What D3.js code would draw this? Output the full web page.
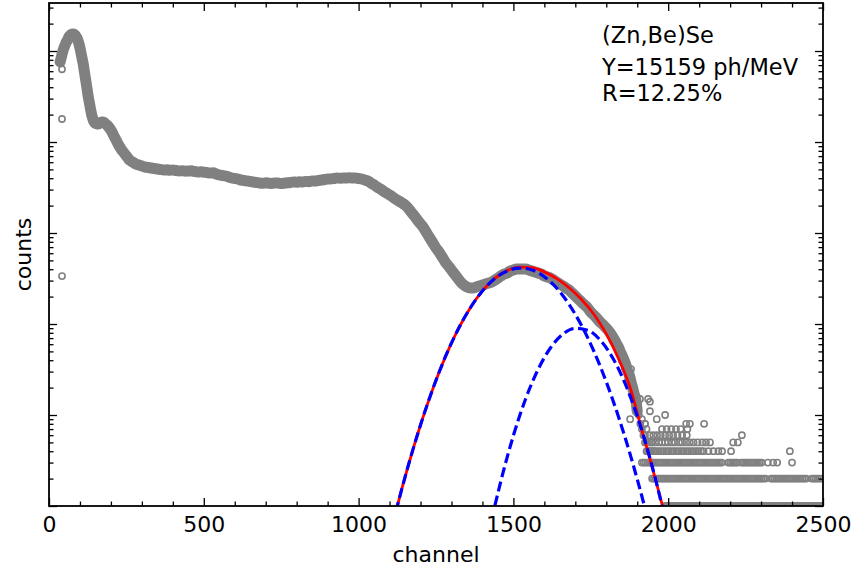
<!DOCTYPE html>
<html>
<head>
<meta charset="utf-8">
<script src="https://cdn.jsdelivr.net/npm/d3@7/dist/d3.min.js"></script>
<style>
body { margin: 0; background: #fff; }
text { font-family: "DejaVu Sans", sans-serif; }
</style>
</head>
<body>
<svg width="855" height="573"></svg>
<script>
var spectrumChannel = [
  36,40,44,48,52,56,60,64,68,72,76,80,84,88,92,96,100,
  102,104,106,108,110,112,114,116,118,120,122,124,126,128,130,132,134,136,138,140,142,144,146,148,150,
  155,160,165,170,175,180,185,190,195,200,205,210,215,220,225,230,235,240,245,250,255,260,265,270,275,280,290,300,
  310,320,330,340,350,360,370,380,390,400,410,420,430,440,450,460,470,480,490,500,
  510,520,530,540,550,560,570,580,590,600,610,620,630,640,650,660,670,680,690,700,
  710,720,730,740,750,760,770,780,790,800,810,820,830,840,850,860,870,880,890,900,
  910,920,930,940,950,960,970,980,990,1000,1010,1020,1030,1040,1050,1060,1070,1080,1090,1100,
  1110,1120,1130,1140,1150,1160,1170,1180,1190,1200,1210,1220,1230,1240,1250,1260,1270,1280,1290,1300,
  1310,1320,1330,1340,1350,1360,1370,1380,1390,1400,1410,1420,1430,1440,1450,1460,1470,1480,1490,1500,
  1510,1520,1530,1540,1550,1560,1570,1580,1590,1600,1610,1620,1630,1640,1650,1660,1670,1680,1690,1700,
  1710,1720,1730,1740,1750,1760,1770,1780,1790,1800,1810,1820,1830,
  1835,1840,1845,1850,1855,1860,1865,1870,1875,1880,1885,1890,1895,1900,1905,1910,1915,1920,1925,1930,1935,1940,1945,1950
];
var spectrumCounts = [
  75700,85900,97500,107900,116400,125600,132100,142500,148000,151800,153700,153700,149900,142500,135500,122400,107900,
  100000,92700,85900,79600,73800,66700,60300,54500,49200,44500,40200,36300,32800,29700,27500,25200,23000,21400,19800,18800,17900,17000,16600,16200,16000,
  15800,15800,16200,16600,16600,16200,15600,15000,14300,13500,12600,11600,10800,10000,9270,8700,8170,7770,7380,7020,6670,6340,6180,6030,5880,5730,5590,5450,
  5310,5250,5180,5120,5050,4990,4920,4950,4900,4920,4860,4800,4830,4780,4800,4820,4740,4680,4700,4660,
  4620,4560,4580,4450,4340,4290,4230,4130,4020,3970,3920,3820,3780,3730,3680,3640,3590,3540,3520,3560,
  3530,3510,3550,3540,3500,3530,3560,3590,3640,3620,3650,3640,3680,3670,3730,3720,3780,3820,3870,3920,
  3920,3970,4020,4000,4030,4020,4050,4010,4020,3970,3920,3820,3730,3540,3370,3200,3050,2890,2750,2620,
  2490,2360,2250,2140,2030,1880,1700,1540,1390,1260,1140,1000,881,777,684,618,545,480,434,392,
  354,320,289,268,255,249,249,255,262,268,275,282,289,304,320,337,354,363,382,392,
  402,402,402,402,392,382,373,363,354,337,329,320,304,289,275,262,249,236,219,203,
  188,174,162,150,135,125,115,105,98,90,82,73,64,
  59,55,50,46,42,38,34,30,27,23,20,17,15,11,10,8,7,6,6,5,4,4,3,3
];

// stray points off the main band
var strayChannel = [42,42,42,1780,1800,1820,1830,1850,1860,1870,1877,1880,1890,1900,1909,1915,1925,1930,1935,1941,1941,1945,1955,1963];
var strayCounts  = [63000,17900,336,110,88,66,58,40,33,27,9,32,17,13,15,9,8,7,15,14,11,5,4,9];

// low-count tail: channels that sit on each integer count row
var tailCounts = [1,2,3,4,5,6,7,8,10];
var tailChannels = [
  [1990,1996,2002,2008,2014,2020,2026,2032,2038,2044,2050,2056,2062,2068,2074,2080,2086,2092,2098,2104,2110,2116,2122,2128,2134,2140,2146,2152,2158,2164,2170,2176,2182,2188,2194,2200,2206,2212,2218,2224,2230,2236,2242,2248,2254,2260,2266,2272,2278,2284,2290,2296,2302,2308,2314,2320,2326,2332,2338,2344,2350,2356,2362,2368,2374,2380,2386,2392,2398,2404,2410,2416,2422,2428,2434,2440,2446,2452,2458,2464,2470,2476,2482,2488,2494],
  [1948,1954,1960,1966,1972,1978,1984,1990,1996,2002,2008,2014,2020,2026,2032,2038,2044,2050,2056,2062,2068,2074,2080,2086,2092,2098,2104,2110,2116,2122,2128,2134,2140,2146,2152,2158,2164,2170,2176,2182,2188,2194,2200,2206,2212,2218,2224,2230,2236,2242,2248,2254,2260,2266,2272,2278,2284,2290,2296,2302,2308,2314,2332,2338,2344,2350,2356,2362,2368,2374,2380,2386,2392,2398,2404,2410,2416,2422,2428,2434,2440,2446,2464,2470,2476,2482,2488,2494],
  [1915,1921,1927,1933,1939,1945,1951,1957,1963,1969,1975,1981,1987,1993,1999,2005,2011,2017,2023,2029,2035,2041,2047,2053,2059,2065,2071,2077,2083,2089,2095,2101,2107,2113,2119,2125,2131,2137,2143,2149,2155,2161,2167,2173,2194,2200,2206,2212,2218,2224,2236,2242,2248,2254,2260,2266,2272,2278,2284,2290,2296,2302,2322,2339,2352,2400],
  [1930,1938,1946,1954,1962,1970,1978,1986,1994,2002,2010,2018,2026,2034,2042,2050,2058,2066,2074,2082,2090,2098,2106,2114,2130,2146,2162,2174,2203,2393],
  [1925,1935,1948,1958,1970,1980,1990,2000,2012,2022,2035,2045,2058,2070,2082,2095,2110,2122,2135,2210,2225],
  [1940,1952,1964,1976,1990,2003,2016,2030,2045,2060,2238],
  [1980,1995,2010,2025,2040,2062],
  [1925,2058,2070,2116],
  [1990]
];

// fitted curves (two gaussians and their sum)
var fitChannel = [1120,1140,1160,1180,1200,1240,1280,1320,1360,1400,1440,1480,1520,1560,1600,1640,1680,1720,1760,1800,1840,1880,1900,1920,1940,1960,1980,2000];
var fitTotal   = [0.86,1.56,2.75,4.70,7.78,19.5,43.4,85.5,149,231,317,386,422,416,374,315,250,186,128,77.9,41.2,18.6,10.5,5.9,3.4,1.9,1.05,0.55];
var peak1Channel = [1120,1140,1160,1180,1200,1240,1280,1320,1360,1400,1440,1480,1520,1560,1600,1640,1680,1720,1760,1800,1840,1880,1900,1920,1940];
var peak1Counts  = [0.86,1.56,2.75,4.70,7.78,19.5,43.4,85.5,149,231,316,383,412,393,331,248,164,96.4,50.2,23.1,9.44,3.42,1.97,1.10,0.59];
var peak2Channel = [1430,1440,1450,1460,1480,1500,1540,1580,1620,1660,1700,1740,1780,1820,1860,1900,1920,1940,1960,1980,2000];
var peak2Counts  = [0.71,1.00,1.39,1.91,3.45,5.94,15.2,31.8,54.8,77.4,89.7,85.5,66.8,42.9,22.5,9.73,5.94,3.45,1.91,1.00,0.50];

var labels = ["(Zn,Be)Se", "Y=15159 ph/MeV", "R=12.25%"];
var xMajor = [0, 500, 1000, 1500, 2000, 2500];

var svg = d3.select("svg");
var margin = {left: 49, top: 3, right: 32, bottom: 67};
var width = 855 - margin.left - margin.right;
var height = 573 - margin.top - margin.bottom;

var g = svg.append("g")
  .attr("transform", "translate(" + margin.left + "," + margin.top + ")");

var x = d3.scaleLinear().domain([0, 2500]).range([0, width]);
var y = d3.scaleLog().domain([1, 3.37e5]).range([height, 0]);

g.append("clipPath").attr("id", "plotclip")
  .append("rect").attr("width", width).attr("height", height);

var plot = g.append("g").attr("clip-path", "url(#plotclip)");

// the spectrum is so dense that its markers merge into a solid band;
// a wide grey stroke along the same points gives that band body
var bandIdx = spectrumChannel.map(function(c, i) { return i; })
  .filter(function(i) { return spectrumChannel[i] <= 1900; });
plot.append("path")
  .attr("d", d3.line()
    .x(function(i) { return x(spectrumChannel[i]); })
    .y(function(i) { return y(spectrumCounts[i]); })
    .curve(d3.curveMonotoneX)(bandIdx))
  .attr("fill", "none")
  .attr("stroke", "#808080")
  .attr("stroke-width", 11)
  .attr("stroke-linejoin", "round")
  .attr("stroke-linecap", "round");

// points
var pts = [];
spectrumChannel.forEach(function(c, i) { pts.push([c, spectrumCounts[i]]); });
strayChannel.forEach(function(c, i) { pts.push([c, strayCounts[i]]); });
tailChannels.forEach(function(row, k) {
  row.forEach(function(c) { pts.push([c, tailCounts[k]]); });
});

plot.selectAll(".pt")
  .data(pts)
  .enter().append("circle")
  .attr("class", "pt")
  .attr("cx", function(d) { return x(d[0]); })
  .attr("cy", function(d) { return y(d[1]); })
  .attr("r", 3.1)
  .attr("fill", "none")
  .attr("stroke", "#808080")
  .attr("stroke-width", 1.6);

function curve(chs, vals) {
  return d3.line()
    .x(function(d) { return x(d); })
    .y(function(d, i) { return y(vals[i]); })
    .curve(d3.curveMonotoneX)(chs);
}

plot.append("path")
  .attr("d", curve(fitChannel, fitTotal))
  .attr("fill", "none").attr("stroke", "#ff0000").attr("stroke-width", 2.8);

[[peak1Channel, peak1Counts], [peak2Channel, peak2Counts]].forEach(function(p) {
  plot.append("path")
    .attr("d", curve(p[0], p[1]))
    .attr("fill", "none").attr("stroke", "#0000ff")
    .attr("stroke-width", 3.2).attr("stroke-dasharray", "10,4.5");
});

// axes, ticks pointing inward on all four sides
var yMajor = [1, 10, 100, 1000, 10000, 100000];
var yMinor = [];
yMajor.forEach(function(v) {
  for (var m = 2; m <= 9; m++) if (v * m <= 3.37e5) yMinor.push(v * m);
});
var xMinor = d3.range(0, 2501, 100).filter(function(v) { return v % 500 !== 0; });

function styleAxis(sel) {
  sel.select(".domain").remove();
  sel.selectAll(".tick line").attr("stroke", "#000").attr("stroke-width", 1.3);
  sel.selectAll("text").style("font-size", "22px").attr("fill", "#000");
}

g.append("g").attr("transform", "translate(0," + height + ")")
  .call(d3.axisBottom(x).tickValues(xMajor).tickSize(-8).tickPadding(10).tickFormat(d3.format("d")))
  .call(styleAxis);
g.append("g").attr("transform", "translate(0," + height + ")")
  .call(d3.axisBottom(x).tickValues(xMinor).tickSize(-4.5).tickFormat(""))
  .call(styleAxis);
g.append("g")
  .call(d3.axisTop(x).tickValues(xMajor).tickSize(-8).tickFormat(""))
  .call(styleAxis);
g.append("g")
  .call(d3.axisTop(x).tickValues(xMinor).tickSize(-4.5).tickFormat(""))
  .call(styleAxis);

g.append("g")
  .call(d3.axisLeft(y).tickValues(yMajor).tickSize(-8).tickFormat(""))
  .call(styleAxis);
g.append("g")
  .call(d3.axisLeft(y).tickValues(yMinor).tickSize(-4.5).tickFormat(""))
  .call(styleAxis);
g.append("g").attr("transform", "translate(" + width + ",0)")
  .call(d3.axisRight(y).tickValues(yMajor).tickSize(-8).tickFormat(""))
  .call(styleAxis);
g.append("g").attr("transform", "translate(" + width + ",0)")
  .call(d3.axisRight(y).tickValues(yMinor).tickSize(-4.5).tickFormat(""))
  .call(styleAxis);

g.append("rect")
  .attr("width", width).attr("height", height)
  .attr("fill", "none").attr("stroke", "#000").attr("stroke-width", 1.8);

// axis titles
svg.append("text")
  .attr("x", margin.left + width / 2)
  .attr("y", 562)
  .attr("text-anchor", "middle")
  .style("font-size", "22px")
  .text("channel");

svg.append("text")
  .attr("transform", "translate(31," + (margin.top + height / 2) + ") rotate(-90)")
  .attr("text-anchor", "middle")
  .style("font-size", "22px")
  .text("counts");

// annotation
var labelY = [43, 75, 101];
labels.forEach(function(t, i) {
  svg.append("text")
    .attr("x", 602)
    .attr("y", labelY[i])
    .style("font-size", "22.5px")
    .text(t);
});
</script>
</body>
</html>
